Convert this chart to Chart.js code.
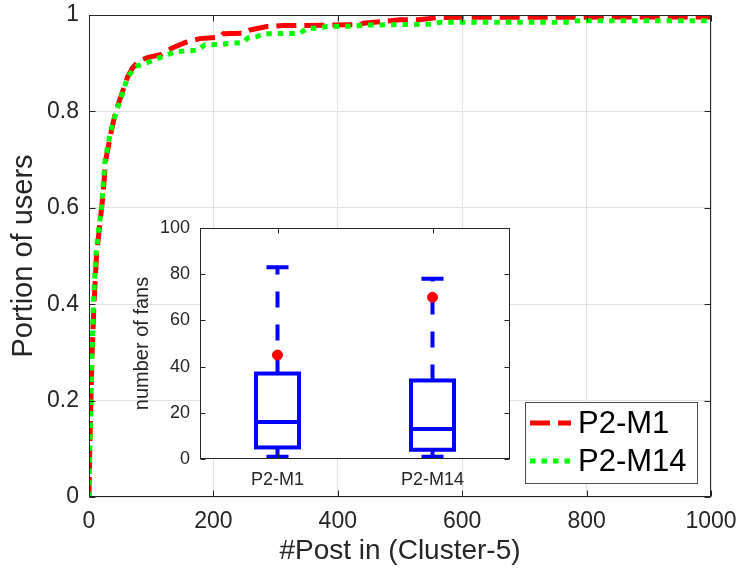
<!DOCTYPE html>
<html><head><meta charset="utf-8">
<script src="https://cdn.jsdelivr.net/npm/chart.js@4"></script>
<style>
html,body{margin:0;padding:0;background:#fff;}
#wrap{position:relative;width:739px;height:574px;overflow:hidden;}
#main{position:absolute;left:0;top:0;}
#inset{position:absolute;left:100px;top:213px;}
</style></head><body>
<div id="wrap"><canvas id="main" width="739" height="574"></canvas><canvas id="inset" width="425" height="290"></canvas></div>
<script>
// ---------- data ----------
const seriesNames = ['P2-M1', 'P2-M14'];
const m1X = [0, 1, 3, 5, 8, 12, 16, 22, 27, 36, 43, 51, 62, 70, 80, 95, 116, 133, 155, 178, 211, 216, 248, 259, 286, 312, 387, 436, 441, 468, 500, 530, 564, 1000];
const m1Y = [0, 0.08, 0.2, 0.3, 0.4, 0.5, 0.55, 0.62, 0.7, 0.76, 0.8, 0.83, 0.872, 0.89, 0.905, 0.912, 0.918, 0.931, 0.943, 0.951, 0.954, 0.961, 0.962, 0.969, 0.976, 0.978, 0.979, 0.98, 0.983, 0.986, 0.99, 0.99, 0.995, 0.996];
const m14X = [0, 1, 3, 5, 7, 11, 15, 20, 26, 35, 44, 52, 62, 74, 92, 110, 122, 138, 175, 186, 214, 222, 248, 255, 270, 280, 339, 350, 371, 382, 430, 441, 500, 553, 564, 773, 784, 1000];
const m14Y = [0, 0.08, 0.2, 0.3, 0.4, 0.5, 0.55, 0.6, 0.7, 0.76, 0.8, 0.83, 0.87, 0.893, 0.9, 0.91, 0.915, 0.924, 0.927, 0.938, 0.939, 0.941, 0.943, 0.952, 0.955, 0.961, 0.962, 0.972, 0.973, 0.976, 0.977, 0.979, 0.98, 0.981, 0.985, 0.985, 0.988, 0.988];
const xTicks = [0, 200, 400, 600, 800, 1000];
const yTicks = [0, 0.2, 0.4, 0.6, 0.8, 1];

const boxLabels = ['P2-M1', 'P2-M14'];
const boxLowerWhisker = [1, 1];
const boxQ1 = [5, 4];
const boxMedian = [16, 13];
const boxQ3 = [37, 34];
const boxUpperWhisker = [83, 78];
const boxOutlier = [45, 70];
const insetYTicks = [0, 20, 40, 60, 80, 100];

// ---------- styles ----------
const FONT = '"Liberation Sans", Arial, Helvetica, sans-serif';
const AX = '#262626';
const GRID = '#e2e2e2';
Chart.defaults.font.family = FONT;
Chart.defaults.color = AX;

function crisp(v){ return Math.round(v) + 0.5; }
function noPad(s){ s.paddingLeft = 0; s.paddingRight = 0; s.paddingTop = 0; s.paddingBottom = 0; }

function frameAndTicks(len){
  return {
    id: 'frameAndTicks',
    afterDraw(chart){
      const {ctx, chartArea: a, scales} = chart;
      ctx.save();
      ctx.strokeStyle = AX; ctx.lineWidth = 1; ctx.setLineDash([]);
      const L = crisp(a.left), R = crisp(a.right) - 1, T = crisp(a.top), B = crisp(a.bottom) - 1;
      ctx.strokeRect(L, T, R - L, B - T);
      ctx.beginPath();
      scales.x.ticks.forEach((t, i) => {
        const px = crisp(scales.x.getPixelForTick(i));
        ctx.moveTo(px, B); ctx.lineTo(px, B - len);
        ctx.moveTo(px, T); ctx.lineTo(px, T + len);
      });
      scales.y.ticks.forEach((t, i) => {
        const py = crisp(scales.y.getPixelForTick(i));
        ctx.moveTo(L, py); ctx.lineTo(L + len, py);
        ctx.moveTo(R, py); ctx.lineTo(R - len, py);
      });
      ctx.stroke();
      ctx.restore();
    }
  };
}

const legendBox = {
  id: 'legendBox',
  afterDraw(chart){
    const {ctx, chartArea: a} = chart;
    const x0 = a.right - 186, y0 = a.bottom - 95, w = 172, h = 81;
    ctx.save();
    ctx.fillStyle = '#fff';
    ctx.fillRect(x0, y0, w, h);
    ctx.strokeStyle = '#4d4d4d'; ctx.lineWidth = 1;
    ctx.strokeRect(x0 + 0.5, y0 + 0.5, w, h);
    chart.data.datasets.forEach((ds, i) => {
      const cy = y0 + 21 + i * 38;
      ctx.strokeStyle = ds.borderColor; ctx.lineWidth = ds.borderWidth;
      ctx.lineCap = 'butt';
      ctx.setLineDash(ds.borderDash);
      ctx.beginPath(); ctx.moveTo(x0 + 5, cy); ctx.lineTo(x0 + 46, cy); ctx.stroke();
      ctx.setLineDash([]);
      ctx.fillStyle = '#000';
      ctx.font = '31px ' + FONT;
      ctx.textBaseline = 'middle'; ctx.textAlign = 'left';
      ctx.fillText(ds.label, x0 + 53, cy + 1);
    });
    ctx.restore();
  }
};

function toPts(xs, ys){ return xs.map((x, i) => ({x: x, y: ys[i]})); }

new Chart(document.getElementById('main'), {
  type: 'line',
  data: {
    datasets: [
      {label: seriesNames[0], data: toPts(m1X, m1Y), borderColor: '#ff0000', borderWidth: 5,
       borderDash: [20, 8], pointRadius: 0, tension: 0, fill: false, order: 1, borderCapStyle: 'butt'},
      {label: seriesNames[1], data: toPts(m14X, m14Y), borderColor: '#00ff00', borderWidth: 5,
       borderDash: [5.5, 6], pointRadius: 0, tension: 0, fill: false, order: 0, borderCapStyle: 'butt'}
    ]
  },
  options: {
    responsive: false, animation: false,
    layout: {padding: {left: 0, right: 28, top: 15, bottom: 0}},
    plugins: {legend: {display: false}, tooltip: {enabled: false}},
    scales: {
      x: {
        type: 'linear', min: 0, max: 1000,
        afterBuildTicks: s => { s.ticks = xTicks.map(v => ({value: v})); },
        afterFit: s => { s.height = 77; noPad(s); },
        ticks: {font: {size: 23}, color: AX, padding: 11, maxRotation: 0, autoSkip: false, callback: v => String(v)},
        grid: {color: GRID, drawTicks: false, lineWidth: 1},
        border: {display: false},
        title: {display: true, text: '#Post in (Cluster-5)', font: {size: 28}, color: AX, padding: {top: 0, bottom: 6}}
      },
      y: {
        type: 'linear', min: 0, max: 1,
        afterBuildTicks: s => { s.ticks = yTicks.map(v => ({value: v})); },
        afterFit: s => { s.width = 89; noPad(s); },
        ticks: {font: {size: 23}, color: AX, padding: 10, autoSkip: false, callback: v => String(+v.toFixed(1))},
        grid: {color: GRID, drawTicks: false, lineWidth: 1},
        border: {display: false},
        title: {display: true, text: 'Portion of users', font: {size: 29}, color: AX, padding: {top: 7, bottom: 0}}
      }
    }
  },
  plugins: [frameAndTicks(6), legendBox]
});

// ---------- inset box plot ----------
const insetBg = {
  id: 'insetBg',
  beforeDraw(chart){
    const {ctx, chartArea: a} = chart;
    ctx.save(); ctx.fillStyle = '#fff';
    ctx.fillRect(a.left, a.top, a.right - a.left, a.bottom - a.top);
    ctx.restore();
  }
};

const boxPlot = {
  id: 'boxPlot',
  beforeDatasetsDraw(chart){
    const {ctx, scales: {x, y}} = chart;
    const half = 21.5, capHalf = 11;
    ctx.save();
    ctx.strokeStyle = '#0000ff'; ctx.lineWidth = 4; ctx.lineCap = 'butt'; ctx.lineJoin = 'miter';
    boxLabels.forEach((lab, i) => {
      const cx = x.getPixelForValue(i);
      const yq1 = y.getPixelForValue(boxQ1[i]), yq3 = y.getPixelForValue(boxQ3[i]);
      const ymed = y.getPixelForValue(boxMedian[i]);
      const yup = y.getPixelForValue(boxUpperWhisker[i]), ylo = y.getPixelForValue(boxLowerWhisker[i]);
      ctx.setLineDash([16, 17]);
      ctx.beginPath(); ctx.moveTo(cx, yq3); ctx.lineTo(cx, yup); ctx.stroke();
      ctx.beginPath(); ctx.moveTo(cx, yq1); ctx.lineTo(cx, ylo); ctx.stroke();
      ctx.setLineDash([]);
      ctx.beginPath();
      ctx.moveTo(cx - capHalf, yup); ctx.lineTo(cx + capHalf, yup);
      ctx.moveTo(cx - capHalf, ylo); ctx.lineTo(cx + capHalf, ylo);
      ctx.stroke();
      ctx.strokeRect(cx - half, yq3, half * 2, yq1 - yq3);
      ctx.beginPath(); ctx.moveTo(cx - half, ymed); ctx.lineTo(cx + half, ymed); ctx.stroke();
    });
    ctx.restore();
  }
};

new Chart(document.getElementById('inset'), {
  type: 'line',
  data: {
    labels: boxLabels,
    datasets: [
      {label: 'outlier', data: boxOutlier, showLine: false, pointRadius: 5, pointStyle: 'circle',
       pointBackgroundColor: '#ff0000', pointBorderColor: '#ff0000', pointBorderWidth: 1}
    ]
  },
  options: {
    responsive: false, animation: false,
    layout: {padding: {left: 0, right: 15, top: 15, bottom: 0}},
    plugins: {legend: {display: false}, tooltip: {enabled: false}},
    scales: {
      x: {
        type: 'category', offset: true,
        afterFit: s => { s.height = 44; noPad(s); },
        ticks: {font: {size: 18}, color: AX, padding: 10, maxRotation: 0, autoSkip: false},
        grid: {display: false, drawTicks: false},
        border: {display: false}
      },
      y: {
        type: 'linear', min: 0, max: 100,
        afterBuildTicks: s => { s.ticks = insetYTicks.map(v => ({value: v})); },
        afterFit: s => { s.width = 100; noPad(s); },
        ticks: {font: {size: 18}, color: AX, padding: 10, autoSkip: false},
        grid: {display: false, drawTicks: false},
        border: {display: false},
        title: {display: true, text: 'number of fans', font: {size: 20}, color: AX, padding: {top: 30, bottom: 0}}
      }
    }
  },
  plugins: [insetBg, boxPlot, frameAndTicks(5)]
});
</script>
</body></html>
